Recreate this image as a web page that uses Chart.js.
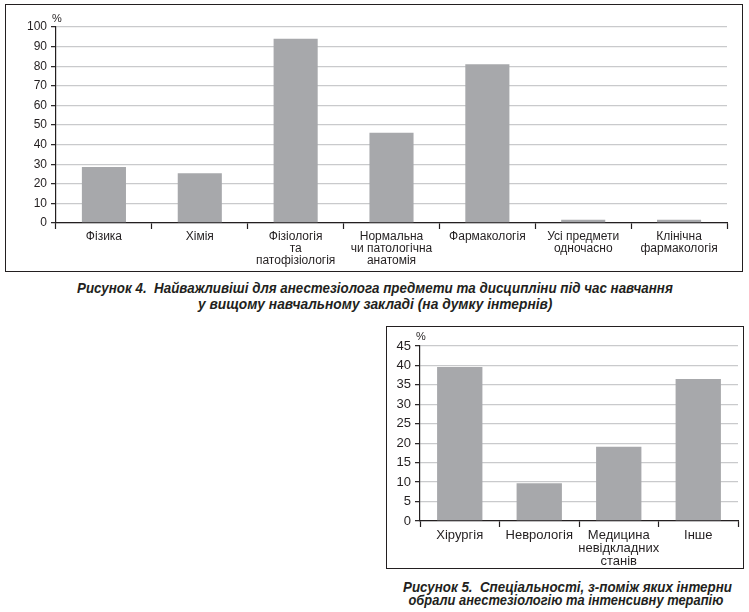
<!DOCTYPE html>
<html>
<head>
<meta charset="utf-8">
<script src="https://cdn.jsdelivr.net/npm/chart.js@4"></script>
<style>
  body { margin: 0; background: #fff; width: 749px; height: 612px; position: relative; overflow: hidden; }
  .box { position: absolute; border: 1.5px solid #231f20; box-sizing: border-box; }
  .box canvas { position: absolute; left: 0; top: 0; }
  .cap {
    position: absolute; white-space: nowrap; color: #231f20;
    font-family: "Liberation Sans", Arial, sans-serif;
    font-weight: bold; font-style: italic; font-size: 14px; line-height: 14px;
    transform-origin: center top;
  }
</style>
</head>
<body>
<div class="box" id="box1" style="left:5px; top:4px; width:738px; height:268px;">
  <canvas id="chart1"></canvas>
</div>
<!-- підписи: центр рядка, бажана ширина -->
<span class="cap" data-cx="375" data-w="596" style="top:281px;">Рисунок 4.&nbsp; Найважливіші для анестезіолога предмети та дисципліни під час навчання</span>
<span class="cap" data-cx="375" data-w="354" style="top:297px;">у вищому навчальному закладі (на думку інтернів)</span>

<div class="box" id="box2" style="left:386px; top:326px; width:358px; height:243px;">
  <canvas id="chart2"></canvas>
</div>
<span class="cap" data-cx="567" data-w="329" style="top:580px;">Рисунок 5.&nbsp; Спеціальності, з-поміж яких інтерни</span>
<span class="cap" data-cx="566" data-w="315" style="top:593px;">обрали анестезіологію та інтенсивну терапію</span>

<script>
// дані рисунка 4
const subjects = [
  "Фізика",
  "Хімія",
  ["Фізіологія", "та", "патофізіологія"],
  ["Нормальна", "чи патологічна", "анатомія"],
  "Фармакологія",
  ["Усі предмети", "одночасно"],
  ["Клінічна", "фармакологія"]
];
const subjectShares = [28.6, 25.4, 94, 46, 81, 1.6, 1.6];
const subjectAxisMax = 100;
const subjectAxisStep = 10;

// дані рисунка 5
const specialties = ["Хірургія", "Неврологія", ["Медицина", "невідкладних", "станів"], "Інше"];
const specialtyShares = [39.6, 9.7, 19.1, 36.5];
const specialtyAxisMax = 45;
const specialtyAxisStep = 5;

const ink = "#231f20";
const barGrey = "#a7a8ab";
const gridGrey = "#c9cacc";

// стиснути кожен рядок підпису до ширини, як у друкованому варіанті
document.querySelectorAll(".cap").forEach((el) => {
  const w = el.offsetWidth;
  const target = +el.dataset.w;
  el.style.left = (+el.dataset.cx - w / 2) + "px";
  el.style.transform = "scaleX(" + (target / w) + ")";
});

// підпис "%" над віссю Y
const percentLabel = {
  id: "percentLabel",
  afterDraw(chart, args, opts) {
    const ctx = chart.ctx;
    const y = chart.scales.y;
    ctx.save();
    ctx.fillStyle = ink;
    ctx.font = opts.font;
    ctx.textAlign = "left";
    ctx.textBaseline = "bottom";
    ctx.fillText("%", y.right + opts.dx, chart.chartArea.top - opts.dy);
    ctx.restore();
  }
};

function makeBarChart(canvasId, box, labels, values, cfg) {
  const canvas = document.getElementById(canvasId);
  canvas.width = box.w;
  canvas.height = box.h;
  canvas.style.width = box.w + "px";
  canvas.style.height = box.h + "px";

  return new Chart(canvas.getContext("2d"), {
    type: "bar",
    data: {
      labels: labels,
      datasets: [{
        data: values,
        backgroundColor: barGrey,
        borderWidth: 0,
        barPercentage: cfg.barPct,
        categoryPercentage: 1
      }]
    },
    options: {
      responsive: false,
      animation: false,
      devicePixelRatio: 1,
      layout: { padding: { left: 0, right: cfg.padRight, top: cfg.padTop, bottom: 0 } },
      plugins: {
        legend: { display: false },
        tooltip: { enabled: false },
        percentLabel: { font: cfg.pctFont, dx: cfg.pctDx, dy: cfg.pctDy }
      },
      scales: {
        x: {
          afterFit: (s) => { s.height = cfg.xHeight; },
          grid: { offset: true, drawOnChartArea: false, drawTicks: true, tickLength: 6, tickColor: ink, tickWidth: 1.2 },
          border: { color: ink, width: 1.2 },
          ticks: { color: ink, font: { family: "Liberation Sans, Arial, sans-serif", size: cfg.fontSize, lineHeight: 1.0 }, padding: 2, maxRotation: 0, autoSkip: false }
        },
        y: {
          min: 0,
          max: cfg.max,
          afterFit: (s) => { s.width = cfg.yWidth; },
          grid: { color: gridGrey, lineWidth: 1.3, drawTicks: true, tickLength: 5, tickColor: ink, tickWidth: 1.2 },
          border: { color: ink, width: 1.2 },
          ticks: { stepSize: cfg.step, color: ink, font: { family: "Liberation Sans, Arial, sans-serif", size: cfg.fontSize }, padding: 4 }
        }
      }
    },
    plugins: [percentLabel]
  });
}

makeBarChart("chart1", { w: 735, h: 265 }, subjects, subjectShares, {
  max: subjectAxisMax, step: subjectAxisStep, barPct: 0.46,
  padRight: 14, padTop: 22, xHeight: 47, yWidth: 50,
  fontSize: 12, pctFont: "11px Liberation Sans, Arial, sans-serif", pctDx: -4, pctDy: 3
});

makeBarChart("chart2", { w: 355, h: 240 }, specialties, specialtyShares, {
  max: specialtyAxisMax, step: specialtyAxisStep, barPct: 0.57,
  padRight: 4, padTop: 19, xHeight: 46, yWidth: 33,
  fontSize: 13, pctFont: "11px Liberation Sans, Arial, sans-serif", pctDx: -4, pctDy: 4
});
</script>
</body>
</html>
